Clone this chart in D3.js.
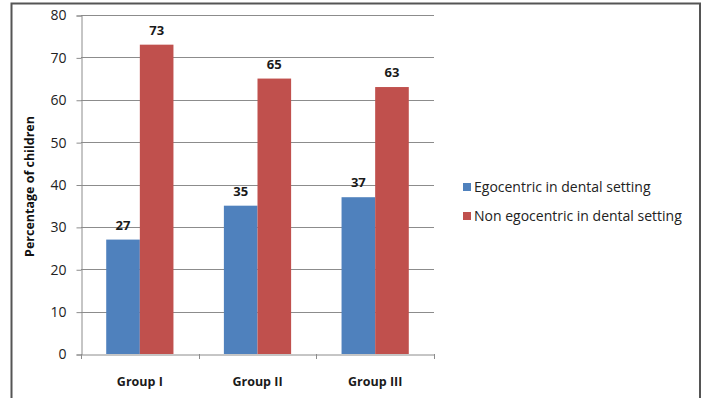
<!DOCTYPE html>
<html>
<head>
<meta charset="utf-8">
<script src="https://cdn.jsdelivr.net/npm/d3@7"></script>
<style>
  html, body { margin: 0; padding: 0; background: #fff; }
  svg { display: block; }
  text { font-family: "Open Sans", "Liberation Sans", sans-serif; }
</style>
</head>
<body>
<svg id="chart" width="708" height="398"></svg>
<script>
// Study groups and the two behaviour categories (percent of children)
const categories = ["Group I", "Group II", "Group III"];
const seriesNames = ["Egocentric in dental setting", "Non egocentric in dental setting"];
const egocentric = [27, 35, 37];
const nonEgocentric = [73, 65, 63];
const yTicks = [0, 10, 20, 30, 40, 50, 60, 70, 80];
const colors = ["#4F81BD", "#C0504D"];

const svg = d3.select("#chart");
const plot = { left: 81, right: 434, top: 15, bottom: 354 };

// Outer frame
svg.append("rect")
  .attr("x", 11.5).attr("y", 3.5)
  .attr("width", 688.5).attr("height", 400)
  .attr("fill", "none").attr("stroke", "#555").attr("stroke-width", 2);

const x = d3.scaleBand().domain(categories).range([plot.left, plot.right]);
const y = d3.scaleLinear().domain([0, 80]).range([plot.bottom, plot.top]);
const inner = d3.scaleBand().domain([0, 1])
  .range([0, x.bandwidth()]).paddingOuter(0.75).paddingInner(0);

// Gridlines
svg.append("g").selectAll("line").data(yTicks.filter(d => d > 0)).join("line")
  .attr("x1", plot.left).attr("x2", plot.right)
  .attr("y1", d => Math.round(y(d)) + 0.5).attr("y2", d => Math.round(y(d)) + 0.5)
  .attr("stroke", "#8c8c8c").attr("stroke-width", 1);

// Y axis
const yAxis = svg.append("g")
  .attr("transform", `translate(${plot.left + 0.5},0.5)`)
  .call(d3.axisLeft(y).tickValues(yTicks).tickSize(5).tickPadding(10));
yAxis.select(".domain").attr("stroke", "#8c8c8c");
yAxis.selectAll(".tick line").attr("stroke", "#8c8c8c");
yAxis.selectAll(".tick text")
  .attr("font-size", 14).attr("fill", "#222")
  .style("font-family", "'Open Sans', sans-serif");

// Bars
const rows = categories.map((c, i) => ({ c, v: [egocentric[i], nonEgocentric[i]] }));
const groups = svg.append("g").selectAll("g").data(rows).join("g")
  .attr("transform", d => `translate(${x(d.c)},0)`);
groups.selectAll("rect").data(d => d.v.map((v, k) => ({ v, k }))).join("rect")
  .attr("x", d => inner(d.k))
  .attr("width", inner.bandwidth())
  .attr("y", d => y(d.v))
  .attr("height", d => y(0) - y(d.v))
  .attr("fill", d => colors[d.k]);
groups.selectAll("text.val").data(d => d.v.map((v, k) => ({ v, k }))).join("text")
  .attr("class", "val")
  .attr("x", d => inner(d.k) + inner.bandwidth() / 2)
  .attr("y", d => y(d.v) - 10)
  .attr("text-anchor", "middle")
  .attr("font-size", 13).attr("font-weight", "bold").attr("fill", "#1a1a1a")
  .text(d => d.v);

// X axis
const xAxis = svg.append("g")
  .attr("transform", `translate(0,${plot.bottom + 0.5})`)
  .call(d3.axisBottom(x).tickSize(0).tickPadding(23));
xAxis.select(".domain").attr("stroke", "#8c8c8c");
xAxis.selectAll(".tick text")
  .attr("font-size", 12.5).attr("font-weight", "bold").attr("fill", "#1a1a1a");
// Category separator ticks
const sepX = categories.map(c => x(c)).concat([plot.right]);
svg.append("g").selectAll("line").data(sepX).join("line")
  .attr("x1", d => Math.round(d) + 0.5).attr("x2", d => Math.round(d) + 0.5)
  .attr("y1", plot.bottom).attr("y2", plot.bottom + 5)
  .attr("stroke", "#8c8c8c");

// Y axis title
svg.append("text")
  .attr("transform", `translate(34,${(plot.top + plot.bottom) / 2 + 2}) rotate(-90)`)
  .attr("text-anchor", "middle")
  .attr("font-size", 12.5).attr("font-weight", "bold").attr("fill", "#111")
  .text("Percentage of children");

// Legend
const legend = svg.append("g").selectAll("g").data(seriesNames).join("g")
  .attr("transform", (d, i) => `translate(463,${187 + i * 29})`);
legend.append("rect")
  .attr("x", 0).attr("y", -4).attr("width", 8).attr("height", 8)
  .attr("fill", (d, i) => colors[i]);
legend.append("text")
  .attr("x", 11).attr("y", 0).attr("dy", "0.35em")
  .attr("font-size", 14).attr("fill", "#222")
  .text(d => d);
</script>
</body>
</html>
